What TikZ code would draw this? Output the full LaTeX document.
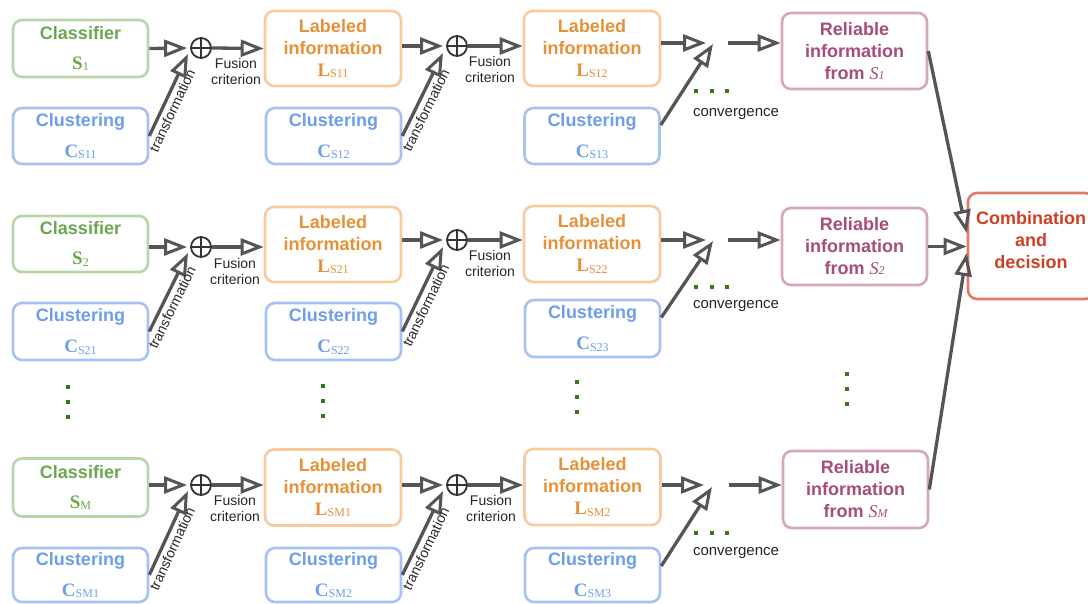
\documentclass[tikz,border=0pt]{standalone}
\usepackage{fontspec}
\setmainfont{Liberation Sans}
\newfontfamily\seriffam{Liberation Serif}
\usetikzlibrary{arrows.meta}

\definecolor{grnB}{HTML}{B6D7A8}\definecolor{grnT}{HTML}{6AA84F}
\definecolor{bluB}{HTML}{A4C2F4}\definecolor{bluT}{HTML}{6D9EEB}
\definecolor{orgB}{HTML}{F9CB9C}\definecolor{orgT}{HTML}{E69138}
\definecolor{pnkB}{HTML}{D5A6BD}\definecolor{pnkT}{HTML}{A64D79}
\definecolor{redB}{HTML}{E07B6A}\definecolor{redT}{HTML}{CC4125}
\definecolor{arr}{HTML}{555555}\definecolor{dotc}{HTML}{38761D}

\newcommand{\symb}[2]{{\seriffam\bfseries\fontsize{19}{19}\selectfont #1}{\seriffam\mdseries\fontsize{12}{12}\selectfont\raisebox{-1.5pt}{#2}}}
\newcommand{\symi}[2]{{\seriffam\mdseries\itshape #1{\fontsize{12}{12}\selectfont #2}}}

\tikzset{
  box/.style={draw, rounded corners=9pt, line width=2.6pt, inner sep=0pt, align=center,
              font=\bfseries\fontsize{18}{22}\selectfont},
  clf/.style={box, draw=grnB, text=grnT, minimum width=135pt},
  clu/.style={box, draw=bluB, text=bluT, minimum width=135pt},
  lab/.style={box, draw=orgB, text=orgT, minimum width=136pt},
  relb/.style={box, draw=pnkB, text=pnkT, minimum width=145pt},
  cmb/.style={box, draw=redB, text=redT},
  flow/.style={draw=arr, line width=3.3pt, -{Triangle[open, length=23pt, width=17pt, line width=3pt]}},
  opl/.style={circle, draw=black!80, line width=1.8pt, minimum size=20pt, inner sep=0pt},
  plusln/.style={draw=black!80, line width=1.8pt},
  note/.style={font=\fontsize{14}{16}\selectfont, text=black!85, align=center},
  tnote/.style={note, pos=0.36, sloped, below, inner sep=3pt},
  tdot/.style={fill=dotc, minimum size=3.5pt, inner sep=0pt}
}

\begin{document}
\begin{tikzpicture}[x=1pt,y=-1pt]
\useasboundingbox (0,0) rectangle (1088,604);
\fill[white] (0,0) rectangle (1088,604);
\clip (0,0) rectangle (1088,604);

% ---------------- Row 1
\node[clf, minimum height=57pt] (cl1) at (80.5,48.5) {Classifier\\[8pt]\symb{S}{1}};
\node[clu, minimum height=56pt] (cs11) at (80.5,136) {Clustering\\[9pt]\symb{C}{S11}};
\node[opl] (op11) at (201,48) {};
\node[lab, minimum height=75pt] (ls11) at (333,48.5) {Labeled\\information\\\symb{L}{S11}};
\node[clu, minimum height=56pt] (cs12) at (333.5,136) {Clustering\\[9pt]\symb{C}{S12}};
\node[opl] (op12) at (457,46) {};
\node[lab, minimum height=75pt] (ls12) at (592,48.5) {Labeled\\information\\\symb{L}{S12}};
\node[clu, minimum height=56pt] (cs13) at (592,136) {Clustering\\[9pt]\symb{C}{S13}};
\coordinate (conv1) at (713,44);
\coordinate (cout1) at (728,43);
\node[relb, minimum height=76pt] (rel1) at (854.5,51) {Reliable\\information\\from \symi{S}{1}};

% ---------------- Row 2
\node[clf, minimum height=56pt] (cl2) at (80.5,244) {Classifier\\[8pt]\symb{S}{2}};
\node[clu, minimum height=57pt] (cs21) at (80.5,331.5) {Clustering\\[9pt]\symb{C}{S21}};
\node[opl] (op21) at (201,247) {};
\node[lab, minimum height=75pt] (ls21) at (333,244.5) {Labeled\\information\\\symb{L}{S21}};
\node[clu, minimum height=57pt] (cs22) at (333.5,331.5) {Clustering\\[9pt]\symb{C}{S22}};
\node[opl] (op22) at (457,240) {};
\node[lab, minimum height=76pt] (ls22) at (592,244) {Labeled\\information\\\symb{L}{S22}};
\node[clu, minimum height=57pt] (cs23) at (592.5,328.5) {Clustering\\[9pt]\symb{C}{S23}};
\coordinate (conv2) at (713,241);
\coordinate (cout2) at (728,240);
\node[relb, minimum height=77pt] (rel2) at (854.5,246.5) {Reliable\\information\\from \symi{S}{2}};

% ---------------- Row 3
\node[clf, minimum height=58pt] (cl3) at (80.5,487.5) {Classifier\\[8pt]\symb{S}{M}};
\node[clu, minimum height=54pt] (cs31) at (80.5,575) {Clustering\\[9pt]\symb{C}{SM1}};
\node[opl] (op31) at (201,485) {};
\node[lab, minimum height=76pt] (ls31) at (333,487.5) {Labeled\\information\\\symb{L}{SM1}};
\node[clu, minimum height=54pt] (cs32) at (333.5,575) {Clustering\\[9pt]\symb{C}{SM2}};
\node[opl] (op32) at (457,485) {};
\node[lab, minimum height=76pt] (ls32) at (592.5,487) {Labeled\\information\\\symb{L}{SM2}};
\node[clu, minimum height=54pt] (cs33) at (592.5,575) {Clustering\\[9pt]\symb{C}{SM3}};
\coordinate (conv3) at (712,487);
\coordinate (cout3) at (729,485);
\node[relb, minimum height=77pt] (rel3) at (855.5,489.5) {Reliable\\information\\from \symi{S}{M}};

% ---------------- Combination
\node[cmb, minimum width=126pt, minimum height=106pt] (comb) at (1031,246) {};
\node[font=\bfseries\fontsize{18}{22}\selectfont, text=redT, align=center] (combt) at (1031,240) {Combination\\and\\decision};

% ---------------- plus signs
\foreach \o in {op11,op12,op21,op22,op31,op32}{
  \draw[plusln] (\o.north) -- (\o.south) (\o.west) -- (\o.east);
}

% ---------------- arrows row 1
\draw[flow, shorten >=3pt] (cl1.east) -- (op11.west);
\draw[flow] (cs11.east) -- ([shift={(-13pt,-6pt)}]op11.center) node[tnote] (t11) {transformation};
\draw[flow] (op11.east) -- (ls11.west);
\node[note] (f11) at (236,71) {Fusion\\criterion};
\draw[flow, shorten >=3pt] (ls11.east |- op12) -- (op12.west);
\draw[flow] (cs12.east) -- ([shift={(-14pt,-7pt)}]op12.center) node[tnote] (t12) {transformation};
\draw[flow] (op12.east) -- (ls12.west |- op12);
\node[note] (f12) at (490,69) {Fusion\\criterion};
\draw[flow, shorten >=7pt] (ls12.east |- cout1) -- (conv1 |- cout1);
\draw[flow] ([yshift=11pt]cs13.east) -- (conv1);
\draw[flow] (cout1) -- (cout1 -| rel1.west);

% ---------------- arrows row 2
\draw[flow, shorten >=3pt] (cl2.east |- op21) -- (op21.west);
\draw[flow] (cs21.east) -- ([shift={(-13pt,-6pt)}]op21.center) node[tnote] (t21) {transformation};
\draw[flow] (op21.east) -- (ls21.west |- op21);
\node[note] (f21) at (235,271) {Fusion\\criterion};
\draw[flow, shorten >=3pt] (ls21.east |- op22) -- (op22.west);
\draw[flow] (cs22.east) -- ([shift={(-14pt,-7pt)}]op22.center) node[tnote] (t22) {transformation};
\draw[flow] (op22.east) -- (ls22.west |- op22);
\node[note] (f22) at (490,263) {Fusion\\criterion};
\draw[flow, shorten >=7pt] (ls22.east |- cout2) -- (conv2 |- cout2);
\draw[flow] ([yshift=11pt]cs23.east) -- (conv2);
\draw[flow] (cout2) -- (cout2 -| rel2.west);

% ---------------- arrows row 3
\draw[flow, shorten >=3pt] (cl3.east |- op31) -- (op31.west);
\draw[flow] (cs31.east) -- ([shift={(-13pt,-6pt)}]op31.center) node[tnote] (t31) {transformation};
\draw[flow] (op31.east) -- (ls31.west |- op31);
\node[note] (f31) at (235,508) {Fusion\\criterion};
\draw[flow, shorten >=3pt] (ls31.east |- op32) -- (op32.west);
\draw[flow] (cs32.east) -- ([shift={(-14pt,-6pt)}]op32.center) node[tnote] (t32) {transformation};
\draw[flow] (op32.east) -- (ls32.west |- op32);
\node[note] (f32) at (491,508) {Fusion\\criterion};
\draw[flow, shorten >=8pt] (ls32.east |- cout3) -- (conv3 |- cout3);
\draw[flow] ([yshift=9pt]cs33.east) -- (conv3);
\draw[flow] (cout3) -- (cout3 -| rel3.west);

% ---------------- to combination
\draw[flow] (rel1.east) -- ([yshift=13pt]comb.west);
\draw[flow] (rel2.east) -- (comb.west |- rel2.east);
\draw[flow] (rel3.east) -- ([yshift=-7pt]comb.west);

% ---------------- convergence labels and dots
\foreach \r/\yd/\yl in {1/91/114, 2/287/306, 3/533/553}{
  \node[tdot] (hd\r a) at (696,\yd) {};
  \node[tdot] (hd\r b) at (712,\yd) {};
  \node[tdot] (hd\r c) at (727,\yd) {};
  \node[note, font=\fontsize{15}{16}\selectfont] (cv\r) at (736,\yl) {convergence};
}

% ---------------- vertical dots
\foreach \c/\x/\y in {1/68/387, 2/323/386, 3/577/382, 4/847/374}{
  \node[tdot] (vd\c a) at (\x,\y) {};
  \node[tdot] (vd\c b) at (\x,\y+15) {};
  \node[tdot] (vd\c c) at (\x,\y+30) {};
}
\end{tikzpicture}
\end{document}
